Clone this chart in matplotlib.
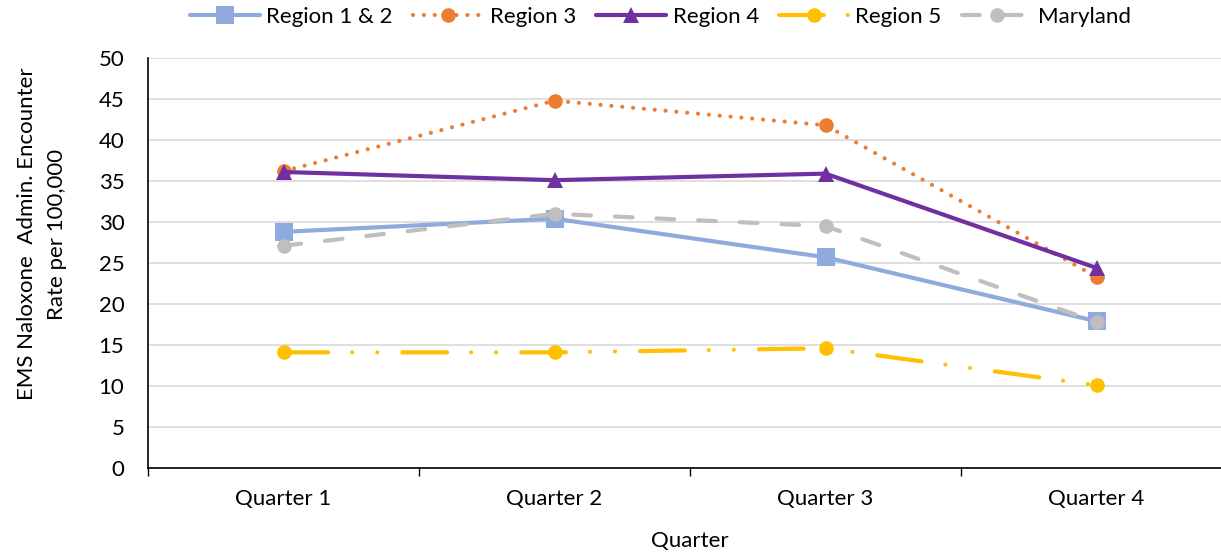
import matplotlib
matplotlib.use("Agg")
import matplotlib.pyplot as plt
from matplotlib.lines import Line2D

plt.rcParams["font.family"] = ["Lato", "DejaVu Sans"]

quarters = ["Quarter 1", "Quarter 2", "Quarter 3", "Quarter 4"]
region_1_2 = [28.8, 30.4, 25.7, 17.9]
region_3 = [36.2, 44.8, 41.8, 23.3]
region_4 = [36.1, 35.1, 35.9, 24.4]
region_5 = [14.1, 14.1, 14.6, 10.1]
maryland = [27.1, 31.0, 29.5, 17.8]

fig = plt.figure(figsize=(12.21, 5.52), dpi=100)
ax = fig.add_axes([148 / 1221, 84 / 552, (1232 - 148) / 1221, 410 / 552])

x = list(range(len(quarters)))
lw = 3.0

series = [
    ("Region 1 & 2", region_1_2, "#8FAADC", "-", "s", 13),
    ("Region 3", region_3, "#ED7D31", (0, (0.01, 2.6)), "o", 10.5),
    ("Region 4", region_4, "#7030A0", "-", "^", 12),
    ("Region 5", region_5, "#FFC000", (0, (10.75, 5.75, 0.01, 6, 0.01, 6)), "o", 10.5),
    ("Maryland", maryland, "#BFBFBF", (0, (4.25, 5.75)), "o", 10.5),
]

handles = []
for label, vals, color, ls, mk, ms in series:
    ax.plot(x, vals, color=color, linestyle=ls, linewidth=lw, marker=mk,
            markersize=ms, dash_capstyle="round", solid_capstyle="round",
            markeredgewidth=0, zorder=3)
    handles.append(Line2D([], [], color=color, linestyle=ls, linewidth=lw,
                          marker=mk, markersize=ms, markeredgewidth=0,
                          dash_capstyle="round", solid_capstyle="round"))

ax.set_xlim(-0.5, 3.5)
ax.set_ylim(0, 50)
ax.set_yticks(range(0, 51, 5))
ax.set_xticks(x)
ax.set_xticklabels(quarters)
ax.set_xticks([-0.5, 0.5, 1.5, 2.5, 3.5], minor=True)
ax.tick_params(axis="x", which="major", length=0, pad=15, labelsize=16)
ax.tick_params(axis="x", which="minor", length=6, width=1, direction="out")
ax.tick_params(axis="y", length=0, pad=17, labelsize=16)

ax.grid(axis="y", color="#D9D9D9", linewidth=1.2, zorder=0)
ax.set_axisbelow(True)
for side in ["top", "right"]:
    ax.spines[side].set_visible(False)
ax.spines["left"].set_color("black")
ax.spines["bottom"].set_color("black")
ax.spines["left"].set_linewidth(1.2)
ax.spines["bottom"].set_linewidth(1.2)

ax.set_xlabel("Quarter", fontsize=16, labelpad=16)
ax.set_ylabel("EMS Naloxone  Admin. Encounter\nRate per 100,000", fontsize=16,
              linespacing=1.6)
ax.yaxis.set_label_coords((67 - 148) / 1084, (468 - 234) / 410)

fig.legend(handles, [s[0] for s in series], loc="center", ncol=5,
           bbox_to_anchor=(0.541, 1 - 17 / 552), frameon=False, fontsize=16,
           handlelength=3.15, columnspacing=0.9, handletextpad=0.3)

fig.savefig("out.png", dpi=100)
